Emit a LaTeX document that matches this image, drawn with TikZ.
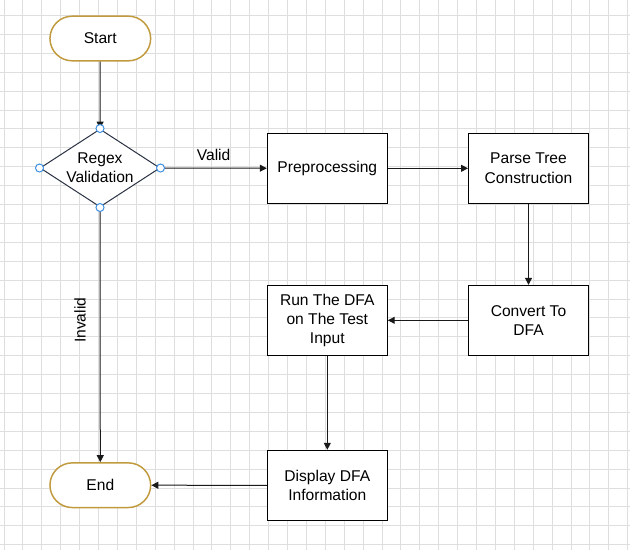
\documentclass[tikz,border=0pt]{standalone}
\usepackage{fontspec}
\setmainfont{Liberation Sans}
\usepackage{tikz}
\usetikzlibrary{arrows.meta,shapes.geometric}

\definecolor{termgold}{HTML}{C19A3E}
\definecolor{diaedge}{HTML}{2B3244}
\definecolor{handleblue}{HTML}{3D8FE0}
\definecolor{gridgray}{HTML}{DEDEDE}

\tikzset{
  txt/.style={font=\fontsize{11.7}{14.4}\selectfont},
  terminal/.style={txt, draw=termgold, line width=1.1pt, fill=white, rounded corners=16.7pt,
    minimum width=75.5pt, minimum height=33.5pt},
  process/.style={txt, draw=black, line width=0.75pt, fill=white, align=center,
    minimum width=90pt, minimum height=52.5pt, inner sep=2pt},
  decision/.style={diamond, draw=diaedge, line width=0.75pt, fill=white, aspect=1.54,
    minimum width=90pt, minimum height=58.5pt, inner sep=0pt},
  handle/.style={circle, draw=handleblue, fill=white, line width=0.75pt, inner sep=0pt, minimum size=6pt},
  arr/.style={-{Triangle[length=5.2pt,width=5.2pt]}, line width=0.75pt, draw=black!90},
  gridline/.style={gridgray, line width=0.75pt}
}

\begin{document}
\begin{tikzpicture}[x=0.75pt,y=-0.75pt]
  % Canvas
  \useasboundingbox (0,0) rectangle (630,550);
  \fill[white] (0,0) rectangle (630,550);
  % Grid
  \foreach \i in {0,...,33}
    \draw[gridline] ({4+18.9*\i},0) -- ({4+18.9*\i},550);
  \foreach \j in {0,...,28}
    \draw[gridline] (0,{15.5+18.9*\j}) -- (630,{15.5+18.9*\j});
  % Start and End
  \node[terminal] (start) at (100.3,38.5) {Start};
  \node[terminal] (end) at (100.3,485.2) {End};
  % Decision
  \node[decision, label={[txt,align=center]center:Regex\\Validation}] (check) at (100,168) {};
  % Steps
  \node[process] (prep) at (327.3,168.3) {Preprocessing};
  \node[process] (parse) at (528.5,168.3) {Parse Tree\\Construction};
  \node[process] (conv) at (528.5,320.3) {Convert To\\DFA};
  \node[process] (run) at (327.3,320.3) {Run The DFA\\on The Test\\Input};
  \node[process] (show) at (327.3,485.3) {Display DFA\\Information};
  % Connectors
  \draw[arr] (start) -- (check);
  \draw[arr] (check) -- node[txt, midway, above=2pt] (valid) {Valid} (prep);
  \draw[arr] (prep) -- (parse);
  \draw[arr] (parse) -- (conv);
  \draw[arr] (conv) -- (run);
  \draw[arr] (run) -- (show);
  \draw[arr] (show) -- (end);
  \draw[arr] (check) -- node[txt, pos=0.443, xshift=-15pt, rotate=90] (invalid) {Invalid} (end);
  % Handles on the decision
  \foreach \a in {north,south,east,west}
    \node[handle] (h-\a) at (check.\a) {};
\end{tikzpicture}
\end{document}
